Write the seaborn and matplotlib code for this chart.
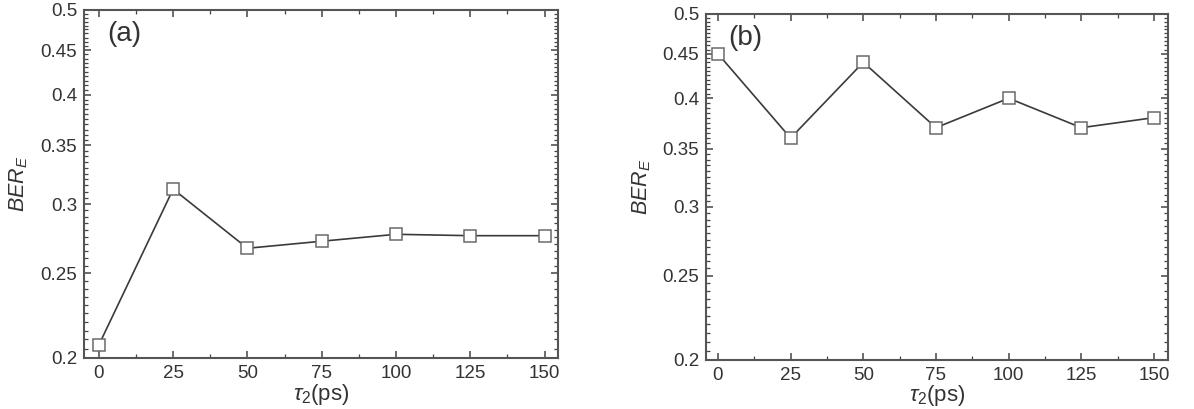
import numpy as np
import pandas as pd
import matplotlib
matplotlib.use("Agg")
import matplotlib.pyplot as plt
from matplotlib.ticker import FixedLocator, MultipleLocator, NullFormatter, FuncFormatter
import seaborn as sns

# ---- data ----
tau2 = [0, 25, 50, 75, 100, 125, 150]
ber_a = [0.207, 0.312, 0.267, 0.272, 0.277, 0.276, 0.276]
ber_b = [0.45, 0.36, 0.44, 0.37, 0.40, 0.37, 0.38]
y_ticks = [0.2, 0.25, 0.3, 0.35, 0.4, 0.45, 0.5]
x_ticks = [0, 25, 50, 75, 100, 125, 150]
panel_labels = ["(a)", "(b)"]

sns.set_style("ticks")
plt.rcParams["font.family"] = ["Liberation Sans", "DejaVu Sans"]
plt.rcParams["mathtext.fontset"] = "custom"
plt.rcParams["mathtext.it"] = "Liberation Sans:italic"
plt.rcParams["mathtext.rm"] = "Liberation Sans"

fig = plt.figure(figsize=(11.94, 4.09), dpi=100)
axA = fig.add_axes([84 / 1194, 1 - 358 / 409, 474 / 1194, 348 / 409])
axB = fig.add_axes([706 / 1194, 1 - 360 / 409, 462 / 1194, 346 / 409])

txt = "#333333"
line_c = "#3a3a3a"
mk_c = "#6a6a6a"

for ax, vals, lab, xl, lp in [(axA, ber_a, panel_labels[0], (-5, 154.5), 0),
                              (axB, ber_b, panel_labels[1], (-4.1, 154.8), -0.5)]:
    df = pd.DataFrame({"tau2": tau2, "ber": vals})
    sns.lineplot(data=df, x="tau2", y="ber", ax=ax, color=line_c, lw=1.2,
                 marker="s", markersize=8, markerfacecolor="white",
                 markeredgecolor=mk_c, markeredgewidth=1.1)
    ax.set_yscale("log")
    ax.set_ylim(0.2, 0.5)
    ax.set_xlim(*xl)
    ax.yaxis.set_major_locator(FixedLocator(y_ticks))
    ax.yaxis.set_major_formatter(FuncFormatter(lambda v, p: f"{v:g}"))
    ax.yaxis.set_minor_locator(MultipleLocator(0.005))
    ax.yaxis.set_minor_formatter(NullFormatter())
    ax.xaxis.set_major_locator(FixedLocator(x_ticks))
    ax.xaxis.set_minor_locator(MultipleLocator(12.5))
    ax.tick_params(which="both", direction="in", top=True, right=True,
                   colors="#444444", labelcolor=txt, labelsize=13.5)
    ax.tick_params(which="major", length=5, width=1.1, pad=5)
    ax.tick_params(which="minor", length=3, width=0.9)
    for s in ax.spines.values():
        s.set_color("#555555")
        s.set_linewidth(1.5)
    ax.set_xlabel(r"$\tau_2$(ps)", fontsize=16, color=txt, labelpad=lp)
    ax.set_ylabel(r"$BER_E$", fontsize=15.5, color=txt)
    ax.yaxis.set_label_coords(-0.114, 0.5)
    ax.text(0.048, 0.93, lab, transform=ax.transAxes, fontsize=20,
            color=txt, ha="left", va="center")

fig.savefig("out.png", dpi=100)
